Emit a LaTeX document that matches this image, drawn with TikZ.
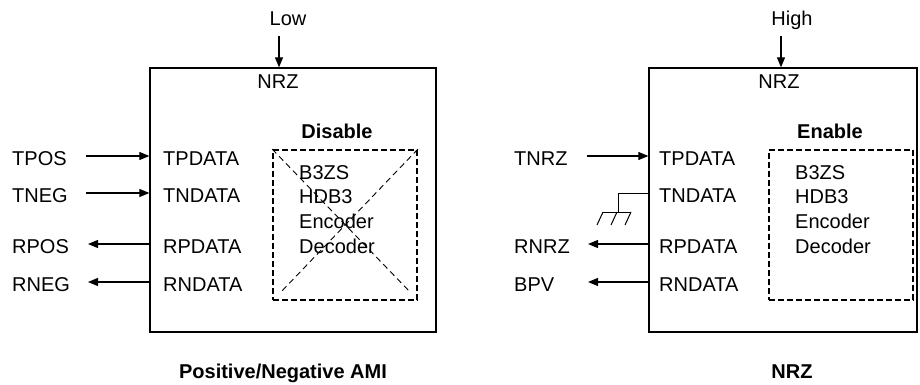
\documentclass[tikz,border=0pt]{standalone}
\usepackage{fontspec}
\setmainfont{Liberation Sans}
\usetikzlibrary{arrows.meta}

\begin{document}
\begin{tikzpicture}[x=1pt,y=-1pt,
    lbl/.style={anchor=base west,inner sep=0pt,font=\fontsize{20}{24}\selectfont},
    mid/.style={anchor=base,inner sep=0pt,font=\fontsize{20}{24}\selectfont},
    ttl/.style={anchor=base,inner sep=0pt,font=\fontsize{20}{24}\selectfont\bfseries},
    sig/.style={line width=1.1pt,-{Triangle[length=10pt,width=8pt]}},
    chip/.style={draw,line width=1.3pt,inner sep=0pt},
    codec/.style={draw,line width=1.8pt,dash pattern=on 6pt off 3pt,inner sep=0pt},
    xline/.style={line width=0.9pt,dash pattern=on 6pt off 4pt}]
    \useasboundingbox (0,0) rectangle (920,385);

    % left: positive/negative AMI
    \node[chip,minimum width=286pt,minimum height=264pt] (lbox) at (293,200) {};
    \node[mid] (llow) at (288,26) {Low};
    \coordinate (llowin) at (279,36);
    \draw[sig] (llowin) -- (llowin |- lbox.north);
    \node[mid] (lnrz) at (278,89) {NRZ};
    \node[ttl] (ldis) at (337,139) {Disable};
    \node[codec,minimum width=144pt,minimum height=150pt] (lcod) at (345,225) {};
    \draw[xline] (lcod.north west) -- ([xshift=-7pt,yshift=8pt]lcod.south east);
    \draw[xline] (lcod.north east) -- ([xshift=8pt,yshift=8pt]lcod.south west);
    \node[lbl] (lb3) at (299,179) {B3ZS};
    \node[lbl] (lhd) at (299,203) {HDB3};
    \node[lbl] (lenc) at (299,228) {Encoder};
    \node[lbl] (ldec) at (299,253) {Decoder};
    \node[lbl] (ltp) at (163,165) {TPDATA};
    \node[lbl] (ltn) at (163,202) {TNDATA};
    \node[lbl] (lrp) at (163,253) {RPDATA};
    \node[lbl] (lrn) at (163,291) {RNDATA};
    \node[lbl] (tpos) at (12,165) {TPOS};
    \node[lbl] (tneg) at (12,202) {TNEG};
    \node[lbl] (rpos) at (12,253) {RPOS};
    \node[lbl] (rneg) at (12,291) {RNEG};
    \coordinate (tposend) at (86,156);
    \coordinate (tnegend) at (86,193);
    \coordinate (rposend) at (88,244);
    \coordinate (rnegend) at (88,282);
    \draw[sig] (tposend) -- (tposend -| lbox.west);
    \draw[sig] (tnegend) -- (tnegend -| lbox.west);
    \draw[sig] (rposend -| lbox.west) -- (rposend);
    \draw[sig] (rnegend -| lbox.west) -- (rnegend);
    \node[ttl] (lcap) at (283,378) {Positive/Negative AMI};

    % right: NRZ
    \node[chip,minimum width=268pt,minimum height=264pt] (rbox) at (783,200) {};
    \node[mid] (rhigh) at (792,26) {High};
    \coordinate (rhighin) at (781,36);
    \draw[sig] (rhighin) -- (rhighin |- rbox.north);
    \node[mid] (rnrz) at (779,89) {NRZ};
    \node[ttl] (ren) at (830,139) {Enable};
    \node[codec,minimum width=144pt,minimum height=150pt] (rcod) at (841,225) {};
    \node[lbl] (rb3) at (795,179) {B3ZS};
    \node[lbl] (rhd) at (795,203) {HDB3};
    \node[lbl] (renc) at (795,228) {Encoder};
    \node[lbl] (rdec) at (795,253) {Decoder};
    \node[lbl] (rtp) at (659,165) {TPDATA};
    \node[lbl] (rtn) at (659,202) {TNDATA};
    \node[lbl] (rrp) at (659,253) {RPDATA};
    \node[lbl] (rrn) at (659,291) {RNDATA};
    \node[lbl] (tnrz) at (514,165) {TNRZ};
    \node[lbl] (rnrzo) at (514,253) {RNRZ};
    \node[lbl] (bpv) at (514,291) {BPV};
    \coordinate (tnrzend) at (587,156);
    \coordinate (tnin) at (649,193);
    \coordinate (gnd) at (618,212);
    \coordinate (rnrzend) at (588,244);
    \coordinate (bpvend) at (588,282);
    \draw[sig] (tnrzend) -- (tnrzend -| rbox.west);
    \draw[line width=1pt] (tnin) -| (gnd);
    \draw[line width=1pt] ([xshift=-15pt]gnd) -- ([xshift=13pt]gnd);
    \foreach \dx in {-15,-1,13}
        \draw[line width=1pt] ([xshift=\dx pt]gnd) -- ++(-6,13);
    \draw[sig] (rnrzend -| rbox.west) -- (rnrzend);
    \draw[sig] (bpvend -| rbox.west) -- (bpvend);
    \node[ttl] (rcap) at (792,378) {NRZ};
\end{tikzpicture}
\end{document}
